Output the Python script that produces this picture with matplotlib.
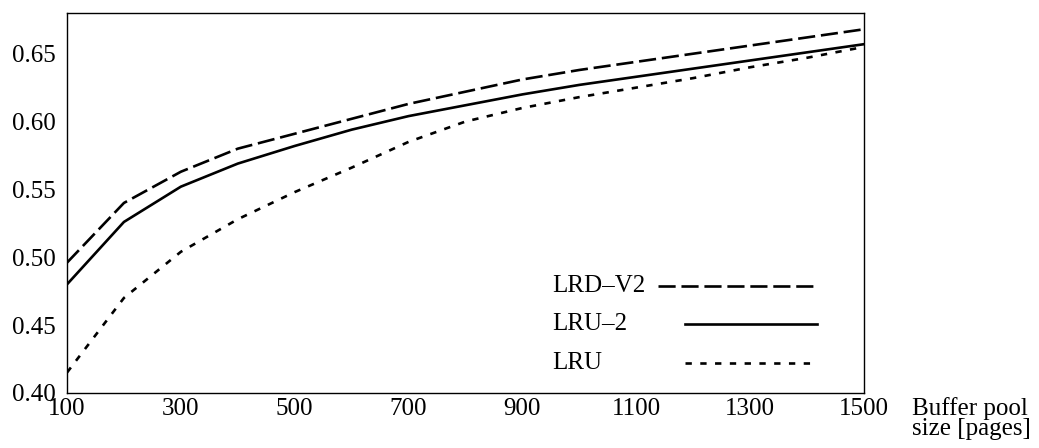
import matplotlib
matplotlib.use("Agg")
import matplotlib.pyplot as plt
from matplotlib.lines import Line2D

# buffer pool sizes and hit ratios
pool_sizes = [100, 200, 300, 400, 500, 600, 700, 800, 900, 1000, 1100, 1200, 1300, 1400, 1500]
lrd_v2 = [0.496, 0.540, 0.563, 0.580, 0.591, 0.602, 0.613, 0.622, 0.631, 0.638, 0.644, 0.650, 0.656, 0.662, 0.668]
lru_2 = [0.480, 0.526, 0.552, 0.569, 0.582, 0.594, 0.604, 0.612, 0.620, 0.627, 0.633, 0.639, 0.645, 0.651, 0.657]
lru = [0.415, 0.470, 0.504, 0.528, 0.548, 0.566, 0.585, 0.600, 0.610, 0.618, 0.625, 0.632, 0.640, 0.647, 0.655]

x_ticks = [100, 300, 500, 700, 900, 1100, 1300, 1500]
y_ticks = [0.40, 0.45, 0.50, 0.55, 0.60, 0.65]

plt.rcParams['font.family'] = ['Liberation Serif', 'DejaVu Serif']
plt.rcParams['font.size'] = 18

fig = plt.figure(figsize=(10.39, 4.48), dpi=100)
ax = fig.add_axes([0.0645, 0.123, 0.767, 0.848])

styles = [
    ('LRD\u2013V2', lrd_v2, dict(dashes=(6.5, 2.2))),
    ('LRU\u20132', lru_2, dict(linestyle='-')),
    ('LRU', lru, dict(dashes=(2.4, 3.2))),
]
for name, vals, st in styles:
    ax.plot(pool_sizes, vals, color='black', lw=1.9, **st)

ax.set_xlim(100, 1500)
ax.set_ylim(0.40, 0.68)
ax.set_xticks(x_ticks)
ax.set_xticklabels([str(v) for v in x_ticks])
ax.set_yticks(y_ticks)
ax.set_yticklabels(['%.2f' % v for v in y_ticks])
ax.tick_params(axis='both', length=0)
ax.tick_params(axis='x', pad=4)
ax.tick_params(axis='y', pad=8)
for s in ax.spines.values():
    s.set_linewidth(1.0)

ax.text(1.06, -0.01, 'Buffer pool\nsize [pages]', transform=ax.transAxes,
        ha='left', va='top', fontsize=18, linespacing=0.92)

# key drawn like the original: label left, sample line to the right
key_y = [0.282, 0.181, 0.080]
key_start = [0.742, 0.775, 0.775]
for (name, vals, st), yk, xs in zip(styles, key_y, key_start):
    ax.text(0.6085, yk, name, transform=ax.transAxes, ha='left', va='center')
    ax.add_line(Line2D([xs, 0.941], [yk, yk], transform=ax.transAxes,
                       color='black', lw=1.9, **st))

fig.savefig('out.png', dpi=100)
